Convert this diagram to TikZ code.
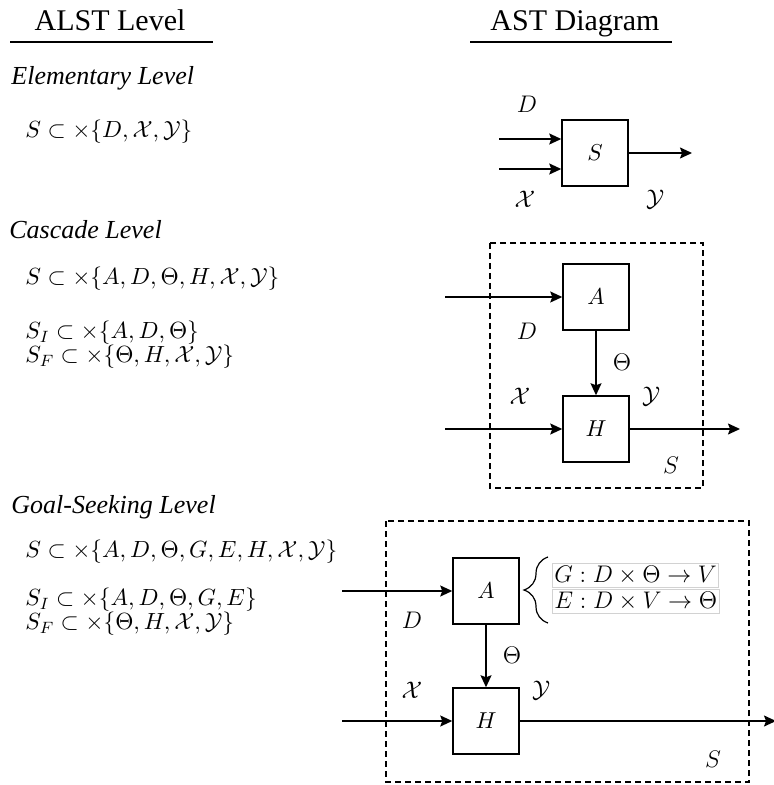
\RequirePackage{fix-cm}
\documentclass[tikz,border=0pt]{standalone}
\usepackage{fontspec}
\setmainfont{Liberation Serif}
\usetikzlibrary{arrows.meta,decorations.pathreplacing}
\begin{document}
\begin{tikzpicture}[x=0.5pt, y=-0.5pt,
            block/.style={draw=black, line width=0.75pt, minimum size=33pt, inner sep=0pt, font=\fontsize{11.5}{13}\selectfont},
            flow/.style={line width=0.75pt, -{Stealth[length=6pt, width=5.5pt, inset=1pt]}},
            sysbox/.style={draw=black, line width=0.6pt, dash pattern=on 3pt off 2pt},
            heading/.style={anchor=base, font=\fontsize{15}{18}\selectfont},
            underline/.style={line width=0.75pt},
            level/.style={anchor=west, inner sep=0pt, font=\fontsize{13}{15}\selectfont\itshape},
            eqn/.style={anchor=west, inner sep=0pt, font=\fontsize{11.7}{14}\selectfont},
            eqpair/.style={anchor=west, inner sep=0pt, align=left, font=\fontsize{11.7}{12}\selectfont},
            lbl/.style={font=\fontsize{12}{14}\selectfont},
            mapping/.style={draw=gray!35, line width=0.4pt, inner sep=1pt, minimum width=81pt, minimum height=12pt, anchor=west, font=\fontsize{12}{14}\selectfont}
        ]
        \useasboundingbox (0,0) rectangle (774,785);

        % Column headings
        \node[heading] (hdralst) at (110,31) {ALST Level};
        \node[heading] (hdrast) at (575,31) {AST Diagram};
        \draw[underline] (10,42) -- (213,42);
        \draw[underline] (470,42) -- (672,42);

        % Elementary level
        \node[level] (lvlelem) at (11,78) {Elementary Level};
        \node[eqn] (eqelem) at (25,132) {$S \subset \times\{D, \mathcal{X}, \mathcal{Y}\}$};

        \node[block] (esys) at (595,153) {$S$};
        \coordinate (ein1) at (499,139);
        \coordinate (ein2) at (499,169);
        \coordinate (eout) at (692,153);
        \draw[flow] (ein1) -- (ein1 -| esys.west);
        \draw[flow] (ein2) -- (ein2 -| esys.west);
        \draw[flow] (esys.east) -- (eout);
        \node[lbl] (elD) at (527,104) {$D$};
        \node[lbl] (elX) at (525,199) {$\mathcal{X}$};
        \node[lbl] (elY) at (655,199) {$\mathcal{Y}$};

        % Cascade level
        \node[level] (lvlcasc) at (9,230) {Cascade Level};
        \node[eqn] (eqcasc) at (25,279) {$S \subset \times\{A, D, \Theta, H, \mathcal{X}, \mathcal{Y}\}$};
        \node[eqpair] (eqcascIF) at (25,345) {$S_I \subset \times\{A, D, \Theta\}$\\ $S_F \subset \times\{\Theta, H, \mathcal{X}, \mathcal{Y}\}$};

        \draw[sysbox] (490,243) rectangle (703,488);
        \node[block] (ca) at (596,297) {$A$};
        \node[block] (ch) at (596,429) {$H$};
        \coordinate (cinA) at (445,297);
        \coordinate (cinH) at (445,429);
        \coordinate (cout) at (740,429);
        \draw[flow] (cinA) -- (ca.west);
        \draw[flow] (ca.south) -- (ch.north);
        \draw[flow] (cinH) -- (ch.west);
        \draw[flow] (ch.east) -- (cout);
        \node[lbl] (clD) at (527,331) {$D$};
        \node[lbl] (clT) at (622,362) {$\Theta$};
        \node[lbl] (clX) at (520,396) {$\mathcal{X}$};
        \node[lbl] (clY) at (651,396) {$\mathcal{Y}$};
        \node[lbl] (clS) at (671,465) {$S$};

        % Goal-seeking level
        \node[level] (lvlgoal) at (11,507) {Goal-Seeking Level};
        \node[eqn] (eqgoal) at (25,552) {$S \subset \times\{A, D, \Theta, G, E, H, \mathcal{X}, \mathcal{Y}\}$};
        \node[eqpair] (eqgoalIF) at (25,612) {$S_I \subset \times\{A, D, \Theta, G, E\}$\\ $S_F \subset \times\{\Theta, H, \mathcal{X}, \mathcal{Y}\}$};

        \draw[sysbox] (386,521) rectangle (749,782);
        \node[block] (ga) at (486,591) {$A$};
        \node[block] (gh) at (486,721) {$H$};
        \coordinate (ginA) at (342,591);
        \coordinate (ginH) at (342,721);
        \coordinate (gout) at (776,721);
        \draw[flow] (ginA) -- (ga.west);
        \draw[flow] (ga.south) -- (gh.north);
        \draw[flow] (ginH) -- (gh.west);
        \draw[flow] (gh.east) -- (gout);
        \node[lbl] (glD) at (412,620) {$D$};
        \node[lbl] (glT) at (512,655) {$\Theta$};
        \node[lbl] (glX) at (412,690) {$\mathcal{X}$};
        \node[lbl] (glY) at (541,690) {$\mathcal{Y}$};
        \node[lbl] (glS) at (713,759) {$S$};

        % Goal and evaluation maps
        \coordinate (brlow) at (548,623);
        \coordinate (brtop) at (548,557);
        \draw[line width=0.6pt, decorate, decoration={brace, amplitude=12pt}] (brlow) -- (brtop);
        \node[mapping] (mapG) at (552,575) {$G : D \times \Theta \to V$};
        \node[mapping] (mapE) at (552,601) {$E : D \times V \to \Theta$};

    \end{tikzpicture}
\end{document}
